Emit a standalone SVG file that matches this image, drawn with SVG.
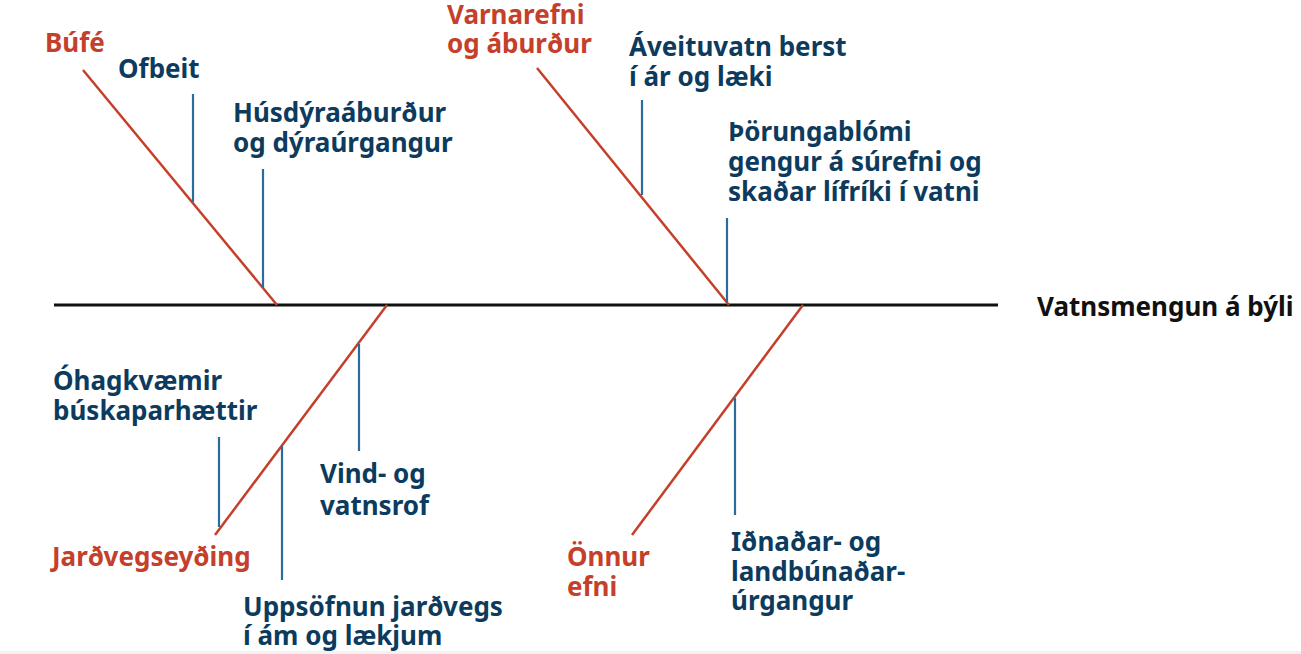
<svg xmlns="http://www.w3.org/2000/svg" width="1301" height="654" viewBox="0 0 1301 654">
<style>
text{font-family:"Noto Sans","Open Sans","DejaVu Sans",sans-serif;font-weight:700;font-size:26px}
.cat{fill:#c5402a}
.cause{fill:#0d3b5e}
.head{fill:#111111}
.bone{stroke:#c5402a;stroke-width:2.5;fill:none}
.tick{stroke:#2a6c9a;stroke-width:2.2;fill:none}
.spine{stroke:#111111;stroke-width:3;fill:none}
</style>
<rect x="0" y="0" width="1301" height="654" fill="#ffffff"/>
<rect x="0" y="651" width="1301" height="3" fill="#f2f2f2"/>
<g id="connectors">
<line class="spine" x1="54" y1="305" x2="998" y2="305"/>
<line class="bone" x1="83" y1="70" x2="277" y2="305"/>
<line class="bone" x1="537" y1="68" x2="729" y2="305"/>
<line class="bone" x1="387" y1="305" x2="215" y2="535"/>
<line class="bone" x1="803" y1="305" x2="632" y2="535"/>
<line class="tick" x1="193" y1="94" x2="193" y2="202"/>
<line class="tick" x1="263" y1="169" x2="263" y2="288"/>
<line class="tick" x1="642" y1="100" x2="642" y2="195"/>
<line class="tick" x1="727" y1="218" x2="727" y2="302"/>
<line class="tick" x1="359" y1="344" x2="359" y2="451"/>
<line class="tick" x1="282" y1="446" x2="282" y2="580"/>
<line class="tick" x1="219" y1="437" x2="219" y2="527"/>
<line class="tick" x1="735" y1="398" x2="735" y2="515"/>
</g>
<g id="effect"><text class="head" x="1037" y="316">Vatnsmengun á býli</text></g>
<g id="bufe"><text class="cat" x="45" y="52">Búfé</text></g>
<g id="ofbeit"><text class="cause" x="118" y="78">Ofbeit</text></g>
<g id="husdyra"><text class="cause" x="233" y="122">Húsdýraáburður<tspan x="233" y="152">og dýraúrgangur</tspan></text></g>
<g id="varnarefni"><text class="cat" x="447" y="24">Varnarefni<tspan x="447" y="53">og áburður</tspan></text></g>
<g id="aveituvatn"><text class="cause" x="629" y="56">Áveituvatn berst<tspan x="629" y="86">í ár og læki</tspan></text></g>
<g id="thorunga"><text class="cause" x="728" y="141">Þörungablómi<tspan x="728" y="171">gengur á súrefni og</tspan><tspan x="728" y="201">skaðar lífríki í vatni</tspan></text></g>
<g id="ohagkvaemir"><text class="cause" x="53" y="390">Óhagkvæmir<tspan x="53" y="420">búskaparhættir</tspan></text></g>
<g id="jardvegseyding"><text class="cat" x="52" y="566">Jarðvegseyðing</text></g>
<g id="vind"><text class="cause" x="320" y="483">Vind- og<tspan x="320" y="515">vatnsrof</tspan></text></g>
<g id="uppsofnun"><text class="cause" x="243" y="616">Uppsöfnun jarðvegs<tspan x="243" y="645">í ám og lækjum</tspan></text></g>
<g id="onnur"><text class="cat" x="567" y="566">Önnur<tspan x="567" y="596">efni</tspan></text></g>
<g id="idnadar"><text class="cause" x="731" y="551">Iðnaðar- og<tspan x="731" y="581">landbúnaðar-</tspan><tspan x="731" y="610">úrgangur</tspan></text></g>
</svg>
